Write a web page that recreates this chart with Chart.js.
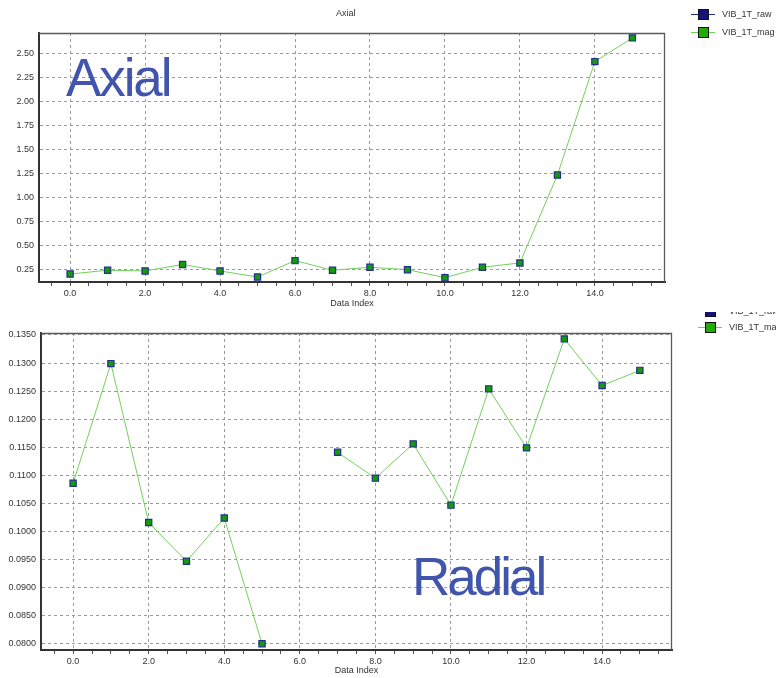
<!DOCTYPE html>
<html>
<head>
<meta charset="utf-8">
<script src="https://cdn.jsdelivr.net/npm/chart.js@4.4.0/dist/chart.umd.min.js"></script>
<style>
  html, body { margin: 0; padding: 0; background: #fff; width: 776px; height: 678px; overflow: hidden; font-family: "Liberation Sans", Arial, sans-serif; }
  .panel { position: absolute; left: 0; width: 776px; }
  #topPanel { top: 0; height: 312px; }
  #bottomPanel { top: 300px; height: 378px; clip-path: inset(12px 0 0 0); }
  canvas { position: absolute; left: 0; top: 0; }
  .big { position: absolute; font-size: 53px; line-height: 53px; color: #4155ad; letter-spacing: -2.1px; white-space: nowrap; }
  .small { position: absolute; font-size: 9px; line-height: 11px; color: #333; white-space: nowrap; }
  .leg { position: absolute; height: 12px; }
  .leg .ln { position: absolute; left: 0; top: 5.5px; width: 24px; height: 1px; }
  .leg .sq { position: absolute; left: 7px; top: 1px; width: 9px; height: 9px; border: 1px solid #111; }
  .leg .tx { position: absolute; left: 31px; top: 0; font-size: 9px; line-height: 12px; color: #333; white-space: nowrap; }
</style>
</head>
<body>
<div id="topPanel" class="panel">
  <canvas id="axialChart" width="776" height="312"></canvas>
  <div class="small" style="left:336px; top:8px;">Axial</div>
  <div class="big" style="left:66px; top:51px;">Axial</div>
</div>
<div id="bottomPanel" class="panel">
  <canvas id="radialChart" width="776" height="378"></canvas>
  <div class="big" style="left:412px; top:250px; letter-spacing:-3px;">Radial</div>
</div>
<script>
// Dados
const dataIndex = [0, 1, 2, 3, 4, 5, 6, 7, 8, 9, 10, 11, 12, 13, 14, 15];
const axialMag = [0.208, 0.247, 0.240, 0.307, 0.240, 0.177, 0.347, 0.247, 0.278, 0.253, 0.170, 0.278, 0.323, 1.236, 2.413, 2.659];
const radialMag = [0.1086, 0.1299, 0.1016, 0.0947, 0.1024, 0.0800, null, 0.1141, 0.1095, 0.1156, 0.1047, 0.1254, 0.1149, 0.1343, 0.1260, 0.1287];

const seriesNames = ['VIB_1T_raw', 'VIB_1T_mag'];
const seriesColors = ['#14147a', '#22aa08'];
const seriesLineColors = ['#2a2a8a', '#72d05c'];

const xMajorTicks = [0, 2, 4, 6, 8, 10, 12, 14];
const axialTicks = [0.25, 0.50, 0.75, 1.00, 1.25, 1.50, 1.75, 2.00, 2.25, 2.50];
const radialTicks = [0.0800, 0.0850, 0.0900, 0.0950, 0.1000, 0.1050, 0.1100, 0.1150, 0.1200, 0.1250, 0.1300, 0.1350];

// minor ticks every 0.5
const xTickValues = [];
for (let v = -0.5; v <= 15.5; v += 0.5) xTickValues.push(v);

const isMajor = v => xMajorTicks.some(m => Math.abs(m - v) < 1e-6);

// moldura do gráfico (topo e direita)
const framePlugin = {
  id: 'frame',
  beforeDatasetsDraw(chart) {
    const { ctx, chartArea: a } = chart;
    ctx.save();
    ctx.strokeStyle = '#5a5a5a';
    ctx.lineWidth = 1.3;
    ctx.beginPath();
    ctx.moveTo(a.left, a.top + 0.5);
    ctx.lineTo(a.right - 0.5, a.top + 0.5);
    ctx.lineTo(a.right - 0.5, a.bottom);
    ctx.stroke();
    ctx.restore();
  }
};

function makeChart(id, values, yTicks, yMin, yMax, decimals, g) {
  const font = { family: 'Liberation Sans', size: 9 };
  return new Chart(document.getElementById(id).getContext('2d'), {
    type: 'line',
    data: {
      datasets: [{
        label: seriesNames[1],
        data: dataIndex.map((x, i) => ({ x: x, y: values[i] })),
        borderColor: seriesLineColors[1],
        borderWidth: 1,
        pointStyle: 'rect',
        pointRadius: 4.4,
        pointHoverRadius: 4.4,
        pointBackgroundColor: '#149a0a',
        pointBorderColor: '#22308e',
        pointBorderWidth: 1.2,
        tension: 0,
        spanGaps: false
      }]
    },
    options: {
      responsive: false,
      animation: false,
      layout: { padding: { top: g.top, right: g.right, left: 0, bottom: 0 } },
      plugins: { legend: { display: false }, tooltip: { enabled: false } },
      scales: {
        x: {
          type: 'linear',
          min: g.xMin,
          max: g.xMax,
          afterBuildTicks: axis => { axis.ticks = xTickValues.map(v => ({ value: v })); },
          afterFit: axis => { axis.height = g.xHeight; },
          ticks: {
            autoSkip: false,
            maxRotation: 0,
            padding: 2,
            color: '#333',
            font: font,
            callback: v => isMajor(v) ? v.toFixed(1) : ''
          },
          grid: {
            color: c => (c.tick && isMajor(c.tick.value)) ? '#9a9a9a' : 'rgba(0,0,0,0)',
            lineWidth: 1,
            tickColor: '#555',
            tickLength: 4
          },
          border: { color: '#333', width: 2, dash: [3, 3] },
          title: { display: true, text: 'Data Index', color: '#333', font: font, padding: { top: 0, bottom: g.titlePad } }
        },
        y: {
          type: 'linear',
          min: yMin,
          max: yMax,
          afterBuildTicks: axis => { axis.ticks = yTicks.map(v => ({ value: v })); },
          afterFit: axis => { axis.width = g.yWidth; },
          ticks: {
            padding: 5,
            color: '#333',
            font: font,
            callback: v => v.toFixed(decimals)
          },
          grid: { color: '#9a9a9a', lineWidth: 1, drawTicks: false },
          border: { color: '#333', width: 2, dash: [3, 3] }
        }
      }
    },
    plugins: [framePlugin]
  });
}

makeChart('axialChart', axialMag, axialTicks, 0.125, 2.71, 2,
  { top: 33, right: 111, yWidth: 39, xHeight: 30, xMin: -0.83, xMax: 15.87, titlePad: 3.3 });

makeChart('radialChart', radialMag, radialTicks, 0.0789, 0.13535, 4,
  { top: 33, right: 104, yWidth: 41, xHeight: 28, xMin: -0.85, xMax: 15.85, titlePad: 1.6 });

// Legendas
function addLegend(panelId, items) {
  const panel = document.getElementById(panelId);
  items.forEach(it => {
    const el = document.createElement('div');
    el.className = 'leg';
    el.style.left = it.x + 'px';
    el.style.top = (it.y - 6) + 'px';
    el.innerHTML = '<div class="ln" style="background:' + seriesLineColors[it.i] + '"></div>' +
      '<div class="sq" style="background:' + seriesColors[it.i] + '"></div>' +
      '<div class="tx">' + seriesNames[it.i] + '</div>';
    panel.appendChild(el);
  });
}
addLegend('topPanel', [{ i: 0, x: 691, y: 14 }, { i: 1, x: 691, y: 32 }]);
addLegend('bottomPanel', [{ i: 0, x: 698, y: 11 }, { i: 1, x: 698, y: 27 }]);
</script>
</body>
</html>
